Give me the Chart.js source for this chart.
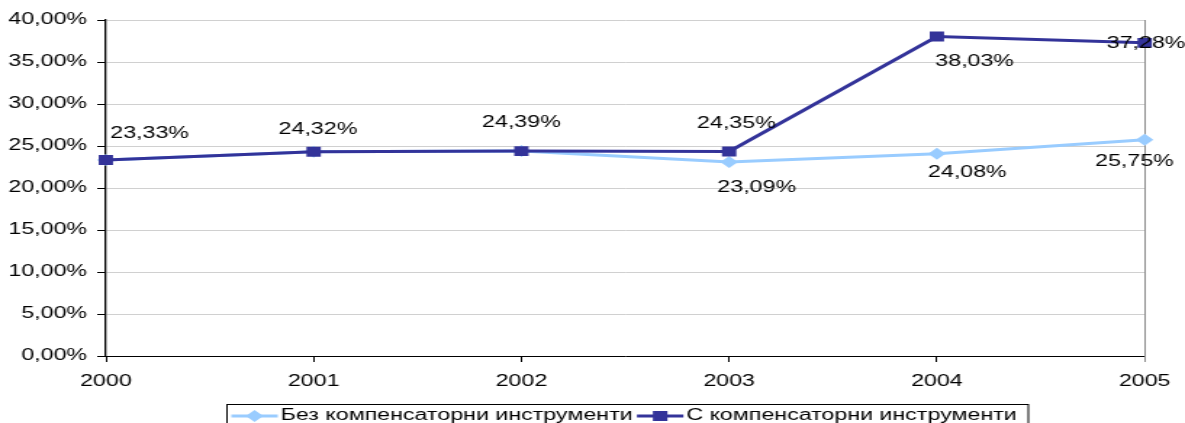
<!DOCTYPE html>
<html>
<head>
<meta charset="utf-8">
<script src="https://cdn.jsdelivr.net/npm/chart.js@4"></script>
<style>
  html, body { margin: 0; padding: 0; background: #fff; overflow: hidden; }
  #wrap { width: 1185px; height: 423px; overflow: hidden; }
  /* the chart is laid out narrow and widened sideways */
  #myChart { display: block; width: 817px; height: 423px; transform: scaleX(1.4504); transform-origin: 0 0; }
</style>
</head>
<body>
<div id="wrap"><canvas id="myChart" width="817" height="423"></canvas></div>
<script>
const years = ["2000", "2001", "2002", "2003", "2004", "2005"];
const withoutInstruments = [23.33, 24.32, 24.39, 23.09, 24.08, 25.75];
const withInstruments = [23.33, 24.32, 24.39, 24.35, 38.03, 37.28];
const seriesNames = ["Без компенсаторни инструменти", "С компенсаторни инструменти"];

const FONT = "'Liberation Sans', Arial, sans-serif";
const LIGHT = "#99ccff";
const DARK = "#333399";

const fmt = (v) => v.toFixed(2).replace(".", ",") + "%";

// where each value label sits relative to its point
const labelPlacement = {
  0: [null, null, null, { dx: 19, dy: 26 }, { dx: 21, dy: 19 }, { dx: -7, dy: 22 }],
  1: [
    { dx: 3, dy: -26, align: "left" },
    { dx: 3, dy: -22 },
    { dx: 0, dy: -29 },
    { dx: 5, dy: -28 },
    { dx: 26, dy: 25 },
    { dx: 1, dy: 1 },
  ],
};

const valueLabels = {
  id: "valueLabels",
  afterDatasetsDraw(chart) {
    const ctx = chart.ctx;
    ctx.save();
    ctx.font = "16px " + FONT;
    ctx.fillStyle = "#000";
    ctx.textBaseline = "middle";
    chart.data.datasets.forEach((ds, di) => {
      const meta = chart.getDatasetMeta(di);
      meta.data.forEach((pt, i) => {
        const p = labelPlacement[di][i];
        if (!p) return;
        ctx.textAlign = p.align || "center";
        ctx.fillText(fmt(ds.data[i]), pt.x + p.dx, pt.y + p.dy);
      });
    });
    ctx.restore();
  },
};

const plotBorder = {
  id: "plotBorder",
  beforeDatasetsDraw(chart) {
    const { ctx, chartArea: a } = chart;
    ctx.save();
    ctx.strokeStyle = "#8c8c8c";
    ctx.lineWidth = 1;
    ctx.beginPath();
    ctx.moveTo(Math.round(a.right) + 0.5, a.top);
    ctx.lineTo(Math.round(a.right) + 0.5, a.bottom + 6);
    ctx.stroke();
    ctx.restore();
  },
};

function drawSample(ctx, x, y, color, style) {
  ctx.strokeStyle = color;
  ctx.lineWidth = 3;
  ctx.beginPath();
  ctx.moveTo(x, y);
  ctx.lineTo(x + 32, y);
  ctx.stroke();
  ctx.fillStyle = color;
  const cx = x + 16;
  ctx.beginPath();
  if (style === "rectRot") {
    ctx.moveTo(cx, y - 6);
    ctx.lineTo(cx + 6, y);
    ctx.lineTo(cx, y + 6);
    ctx.lineTo(cx - 6, y);
    ctx.closePath();
  } else {
    ctx.rect(cx - 5, y - 5, 10, 10);
  }
  ctx.fill();
}

const boxedLegend = {
  id: "boxedLegend",
  afterDraw(chart) {
    const ctx = chart.ctx;
    ctx.save();
    ctx.font = "16px " + FONT;
    const w1 = ctx.measureText(seriesNames[0]).width;
    const w2 = ctx.measureText(seriesNames[1]).width;
    const boxW = 3 + 32 + 2 + w1 + 3 + 32 + 2 + w2 + 8;
    const left = Math.round(432.7 - boxW / 2) + 0.5;
    const top = 404.5;
    ctx.strokeStyle = "#000";
    ctx.lineWidth = 1;
    ctx.strokeRect(left, top, boxW, 30);
    const y = 416;
    let x = left + 3;
    drawSample(ctx, x, y, LIGHT, "rectRot");
    x += 34;
    ctx.fillStyle = "#000";
    ctx.textBaseline = "middle";
    ctx.textAlign = "left";
    ctx.fillText(seriesNames[0], x, y);
    x += w1 + 3;
    drawSample(ctx, x, y, DARK, "rect");
    x += 34;
    ctx.fillStyle = "#000";
    ctx.fillText(seriesNames[1], x, y);
    ctx.restore();
  },
};

const config = {
  type: "line",
  data: {
    labels: years,
    datasets: [
      {
        label: seriesNames[0],
        data: withoutInstruments,
        borderColor: LIGHT,
        backgroundColor: LIGHT,
        borderWidth: 3,
        pointStyle: "rectRot",
        pointRadius: 6,
        pointBorderWidth: 0,
        tension: 0,
        order: 1,
      },
      {
        label: seriesNames[1],
        data: withInstruments,
        borderColor: DARK,
        backgroundColor: DARK,
        borderWidth: 3,
        pointStyle: "rect",
        pointRadius: 7,
        pointBorderWidth: 0,
        tension: 0,
        order: 0,
      },
    ],
  },
  options: {
    responsive: false,
    animation: false,
    devicePixelRatio: 1,
    layout: { padding: { top: 20, right: 27, bottom: 0, left: 0 } },
    plugins: {
      legend: { display: false },
      tooltip: { enabled: false },
    },
    scales: {
      x: {
        offset: false,
        grid: {
          drawOnChartArea: false,
          drawTicks: true,
          tickLength: 6,
          tickColor: (c) => (c.index === years.length - 1 ? "#8c8c8c" : "#000"),
        },
        border: { color: "#000", width: 1 },
        ticks: {
          color: "#000",
          font: { family: FONT, size: 16 },
          padding: 10,
          maxRotation: 0,
        },
        afterFit: (axis) => {
          axis.height = 67;
        },
      },
      y: {
        min: 0,
        max: 40,
        grid: {
          color: "#d0d0d0",
          lineWidth: 1,
          tickLength: 6,
          tickColor: "#000",
        },
        border: { color: "#000", width: 1.3 },
        ticks: {
          stepSize: 5,
          color: "#000",
          font: { family: FONT, size: 16 },
          padding: 7,
          callback: (v) => fmt(v),
        },
        afterFit: (axis) => {
          axis.width = 73;
        },
      },
    },
  },
  plugins: [plotBorder, valueLabels, boxedLegend],
};

new Chart(document.getElementById("myChart").getContext("2d"), config);
</script>
</body>
</html>
